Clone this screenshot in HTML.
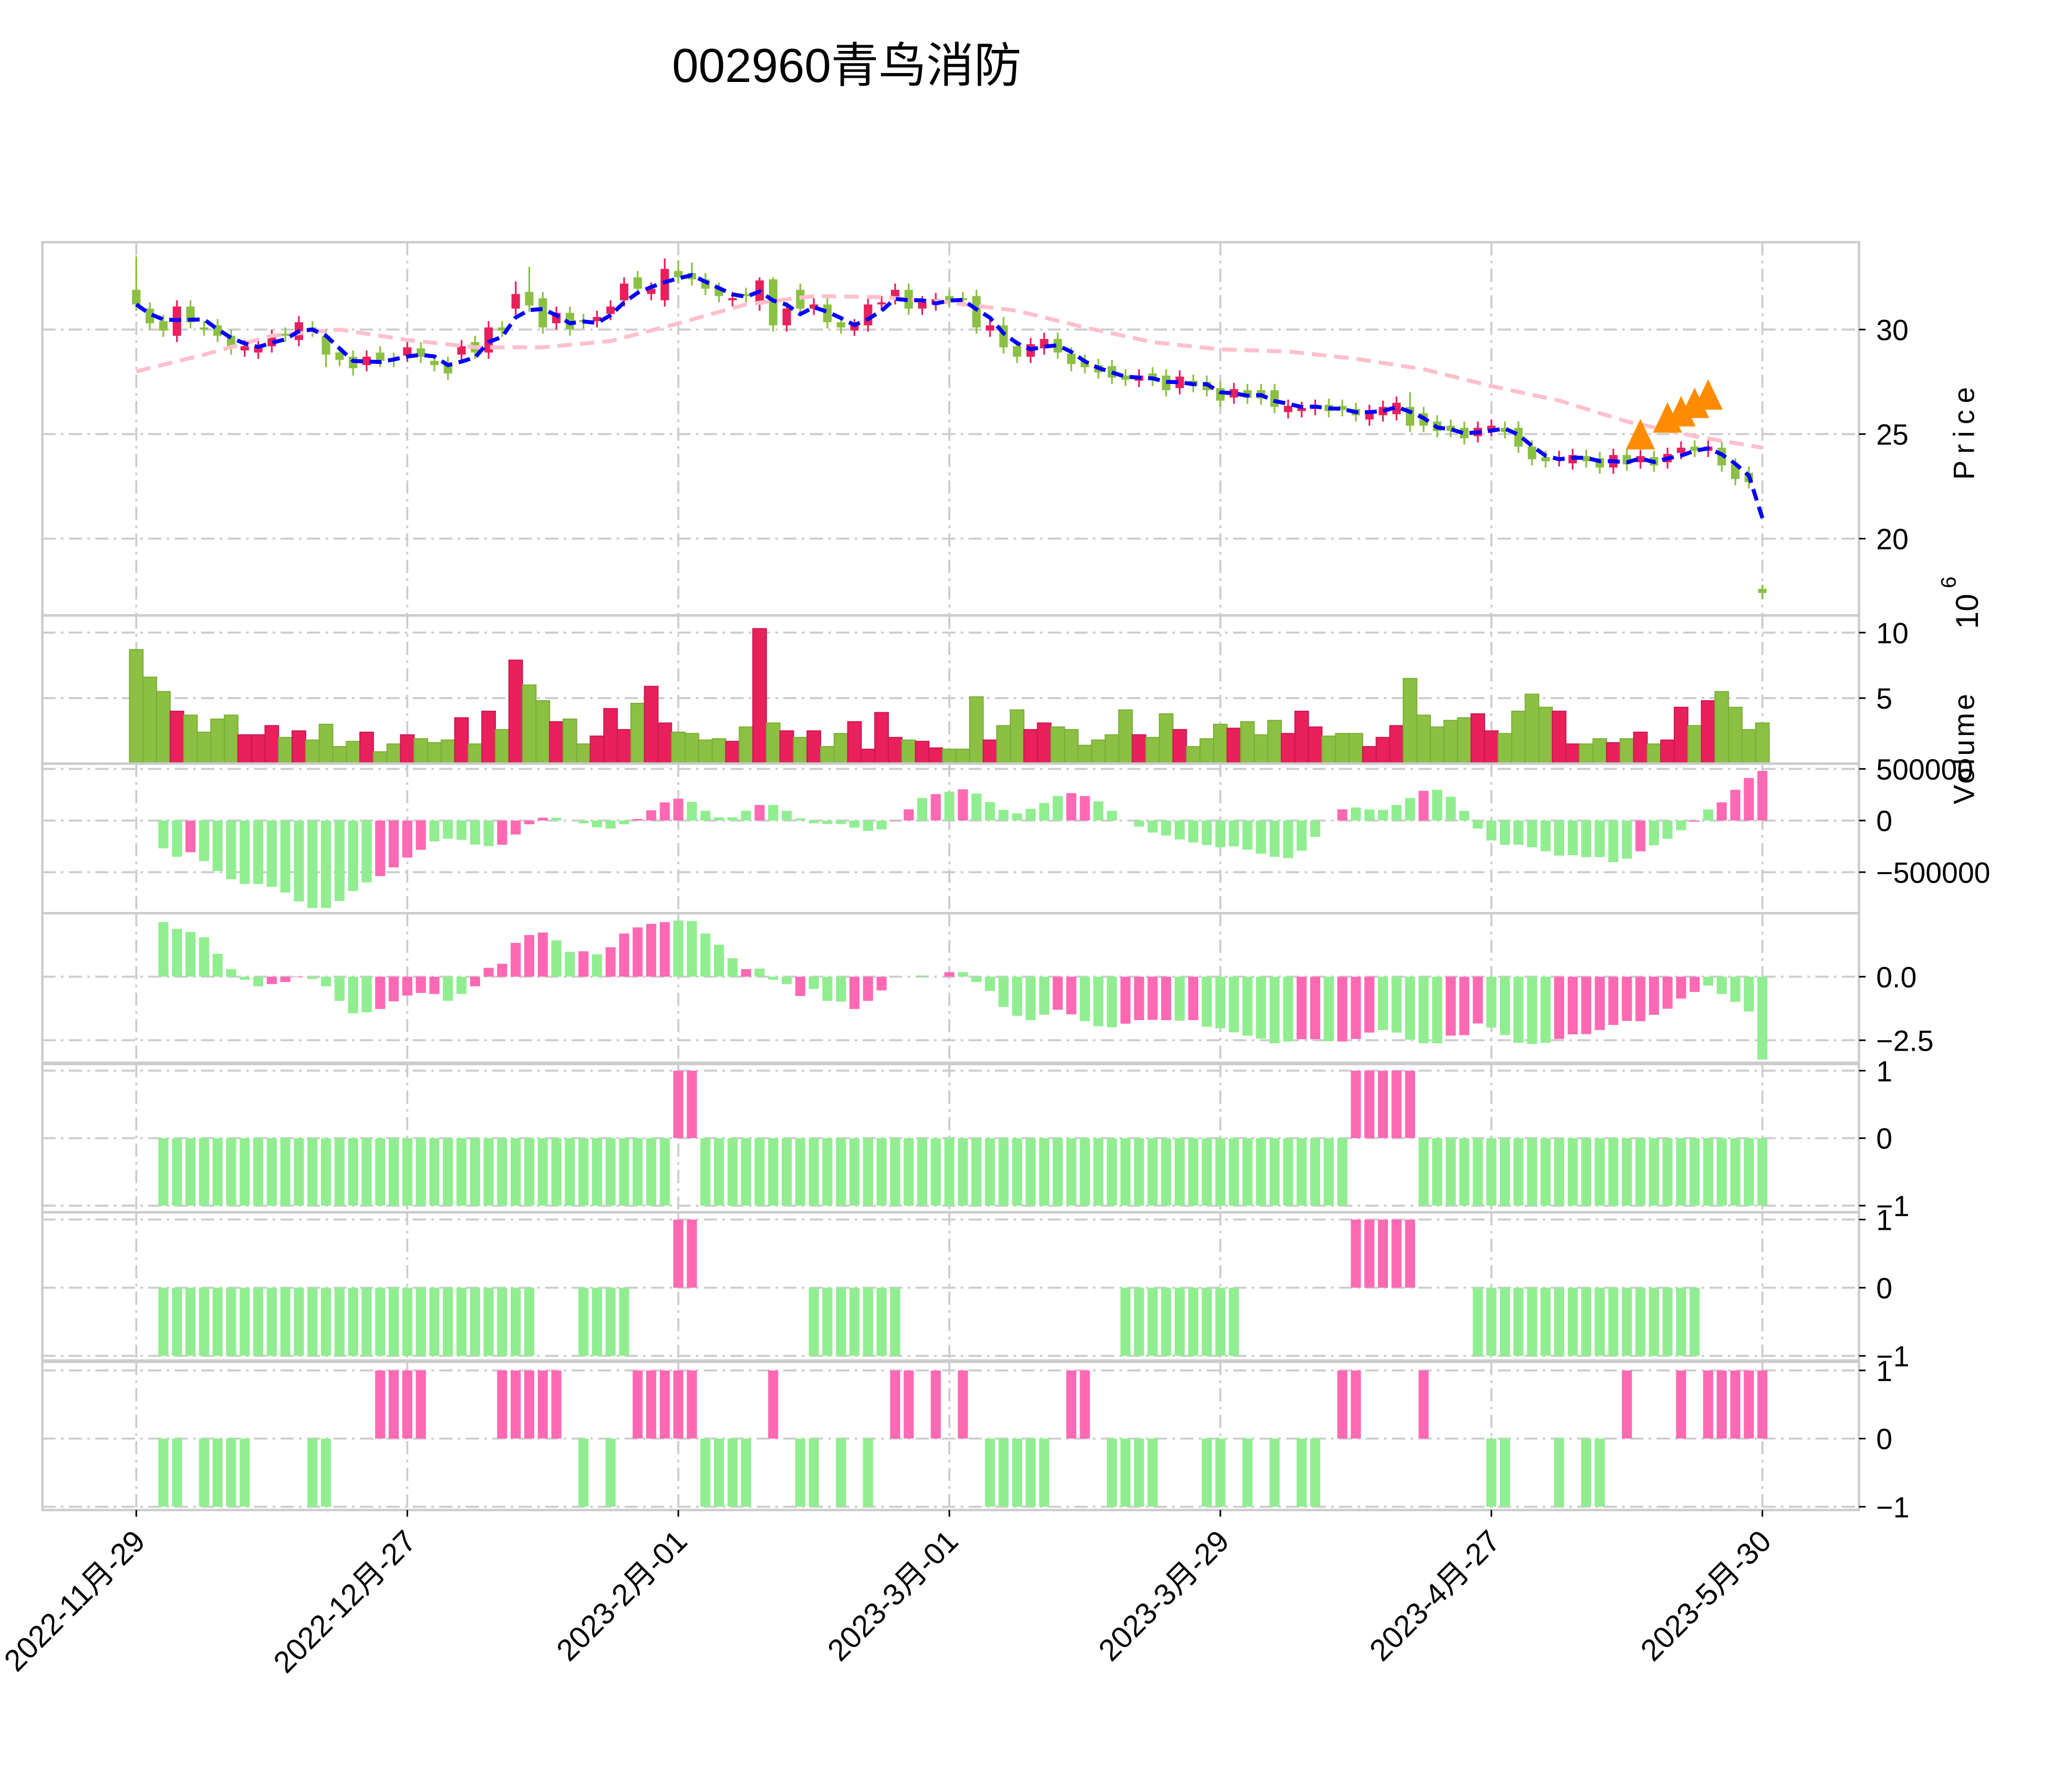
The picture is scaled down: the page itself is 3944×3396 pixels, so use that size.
<!DOCTYPE html>
<html><head><meta charset="utf-8">
<style>
html,body{margin:0;padding:0;background:#fff;}
svg{display:block;}
text{font-family:"Liberation Sans","Noto Sans CJK SC",sans-serif;}
</style></head>
<body>
<svg id="chart" xmlns="http://www.w3.org/2000/svg" width="3944" height="3396" viewBox="0 0 1566 1348" preserveAspectRatio="none">
<rect x="0" y="0" width="1566" height="1348" fill="#fff"/>
<text x="640" y="62" font-size="36" text-anchor="middle" fill="#000">002960青鸟消防</text>
<g id="grid"></g>
<g id="marks"></g>
<g id="frames"></g>
<g id="axes"></g>
</svg>
<script>
const dateLabels = ["2022-11月-29","2022-12月-27","2023-2月-01","2023-3月-01","2023-3月-29","2023-4月-27","2023-5月-30"];
const dateTickIdx = [0,20,40,60,80,100,120];
const opens = [31.9,31.0,30.4,29.7,31.1,30.1,30.2,29.7,29.0,28.9,29.2,29.8,29.5,30.1,29.7,28.9,28.7,28.3,28.9,28.6,28.75,29.1,28.5,28.4,28.8,29.4,28.9,30.1,31.0,31.8,31.5,30.3,30.8,30.45,30.4,30.75,31.4,32.5,31.7,31.4,32.8,32.7,32.4,31.95,31.4,31.7,31.2,32.4,30.2,31.9,31.0,31.2,30.35,29.95,30.2,31.2,31.5,31.9,31.0,31.2,31.6,31.5,31.6,29.95,30.2,29.2,28.7,29.1,29.55,28.85,28.5,28.3,28.25,27.8,27.55,27.9,27.8,27.2,27.55,27.5,27.2,26.75,27.1,27.1,27.1,26.05,26.1,26.2,26.4,26.35,26.2,25.7,25.9,25.95,26.3,26.0,25.6,25.4,25.3,24.9,25.2,25.3,25.3,24.4,23.9,23.75,23.6,23.95,23.85,23.4,24.0,23.65,23.9,23.65,24.1,24.4,24.2,24.35,23.55,23.15,17.6];
const closes = [31.2,30.3,29.95,31.1,30.35,30.0,29.7,29.1,29.2,29.2,29.7,29.7,30.35,29.95,28.8,28.55,28.15,28.7,28.5,28.5,29.15,28.7,28.3,27.9,29.2,28.9,30.1,29.95,31.7,31.15,30.1,30.8,30.0,30.35,30.6,31.1,32.2,31.95,31.95,32.9,32.5,32.4,31.95,31.6,31.5,31.6,32.35,30.2,31.0,31.0,31.2,30.35,30.1,30.2,31.2,31.3,31.9,31.0,31.3,31.45,31.4,31.4,30.1,30.2,29.15,28.7,29.3,29.55,28.9,28.35,28.2,27.95,27.7,27.6,27.8,27.6,27.1,27.75,27.3,27.1,26.6,27.15,26.75,26.7,26.3,26.35,26.25,26.35,26.1,26.15,25.9,26.1,26.3,26.5,25.4,25.4,25.15,25.15,24.8,25.3,25.4,25.1,24.4,23.8,23.7,23.9,24.0,23.7,23.4,24.0,23.55,23.95,23.5,24.05,24.35,24.2,24.4,23.5,22.85,22.7,17.4];
const highExtra = {0:33.5,28:32.3,29:33.0,36:32.5,39:33.4,40:33.3,41:33.2,46:32.5,47:32.5,56:32.2,64:30.6,94:27.0,120:17.8};
const lowExtra = {14:28.2,16:27.8,23:27.6,47:29.9,53:29.7,69:28.0};
const volumes = [8.7,6.6,5.5,4.0,3.7,2.4,3.4,3.7,2.2,2.2,2.9,2.0,2.5,1.8,3.0,1.3,1.7,2.4,0.9,1.5,2.2,1.9,1.6,1.8,3.5,1.5,4.0,2.6,7.9,6.0,4.8,3.2,3.4,1.5,2.1,4.2,2.6,4.6,5.9,3.1,2.4,2.3,1.8,1.9,1.7,2.8,10.3,3.1,2.5,2.0,2.5,1.3,2.3,3.2,1.1,3.9,2.0,1.8,1.7,1.2,1.1,1.1,5.1,1.8,2.9,4.1,2.6,3.1,2.8,2.6,1.4,1.8,2.2,4.1,2.2,2.0,3.8,2.6,1.3,1.9,3.0,2.7,3.2,2.2,3.3,2.3,4.0,2.8,2.1,2.3,2.3,1.3,2.0,2.9,6.5,3.7,2.8,3.3,3.5,3.8,2.5,2.3,4.0,5.3,4.3,4.0,1.5,1.5,1.9,1.6,1.9,2.4,1.5,1.8,4.3,2.9,4.8,5.5,4.3,2.6,3.1];
const pinkIdx = [0,5,10,15,20,25,30,35,40,45,50,55,60,65,70,75,80,85,90,95,100,105,110,115,120];
const pinkVals = [28.0,28.8,29.7,30.0,29.5,29.15,29.15,29.45,30.3,31.2,31.6,31.55,31.3,30.9,30.1,29.4,29.05,28.95,28.6,28.1,27.3,26.6,25.6,24.9,24.35];
const triIdx = [111,113,114,115,116];
const triVals = [24.9,25.7,26.0,26.4,26.8];
const obvVals = [0,0,-269,-351,-307,-393,-489,-569,-615,-615,-641,-698,-784,-847,-847,-779,-683,-599,-538,-454,-359,-284,-202,-176,-187,-233,-248,-235,-135,-36,27,27,0,-27,-65,-78,-36,15,99,176,212,181,94,31,31,94,151,151,94,21,-27,-34,-34,-69,-101,-86,-4,109,218,256,279,303,261,179,103,69,113,170,237,265,237,185,94,0,-59,-116,-145,-183,-212,-237,-260,-250,-282,-321,-351,-364,-292,-158,0,109,126,107,103,151,218,288,298,231,94,-78,-193,-235,-235,-260,-298,-340,-336,-355,-355,-403,-370,-298,-240,-177,-94,-11,107,176,298,412,481];
const obvCols = "ggggpgggggggggggggppppgggggppppggggggppppgggggpgggggggggppgpgpgggggggppgggggggggggggggggppgggggpgggggggggggggggpgggpgpppppggggg".split('');
const macdVals = [0,0,2.15,1.88,1.76,1.55,0.90,0.30,-0.12,-0.38,-0.29,-0.21,-0.02,-0.09,-0.38,-0.95,-1.44,-1.40,-1.27,-0.97,-0.74,-0.64,-0.68,-0.95,-0.68,-0.38,0.35,0.51,1.33,1.64,1.74,1.43,0.98,1.0,0.88,1.16,1.70,1.94,2.08,2.15,2.21,2.19,1.70,1.26,0.73,0.30,0.32,-0.12,-0.29,-0.76,-0.48,-0.95,-0.98,-1.27,-0.95,-0.54,0.0,0.0,0.05,0.0,0.18,0.18,-0.21,-0.56,-1.19,-1.54,-1.71,-1.5,-1.30,-1.48,-1.75,-1.95,-1.99,-1.85,-1.71,-1.70,-1.71,-1.73,-1.71,-1.97,-2.03,-2.19,-2.32,-2.44,-2.62,-2.55,-2.46,-2.46,-2.54,-2.55,-2.45,-2.20,-2.10,-2.20,-2.48,-2.62,-2.62,-2.32,-2.3,-1.84,-2.0,-2.3,-2.6,-2.65,-2.6,-2.45,-2.27,-2.26,-2.1,-1.9,-1.74,-1.75,-1.5,-1.26,-0.86,-0.6,-0.35,-0.68,-0.99,-1.37,-3.26];
const macdCols = "ggggggggggpppgggggpppppggppppppggpgpppppgggggpgggpgggpppgpgppgggggggppgggppppgpgggggggppgpppgggggpppgggggpppppppppppggggg".split('');
const sig5 = ("00"+"--------------------------------------"+"++"+"------------------------------------------------"+"+++++"+"--------------------------").split('');
const sig6 = "00----------------------------000----000++00000000-------0000000000000000---------00000000+++++0000-----------------00000".split('');
const sig7 = "00--0----0000--000++++00000+++++0-0-0+++++----0+0--0-0-0++0+0+0-----0++0----000--0-0-0--0++0000+0000--000-0--0+000+0+++++000".split('');

const NS="http://www.w3.org/2000/svg";
const N=121, X0=103, DX=1229/120;
const L=32, R=1405;
const xOf=i=>X0+i*DX;
const yP=v=>249-(v-30)*15.8;
const yV=v=>577-v*9.9;
const yO=k=>620-k*0.078;
const yM=v=>738-v*19.2;
const y5=v=>860-v*51, y6=v=>973-v*51.5, y7=v=>1087-v*51.5;
const RED="#e8205c", GRN="#8bc043", LG="#90ee90", HP="#ff69b4";
function mk(tag,attrs,parent){const e=document.createElementNS(NS,tag);for(const k in attrs)e.setAttribute(k,attrs[k]);document.getElementById(parent).appendChild(e);return e;}
function sigFrom(ch){return ch==='+'?1:(ch==='-'?-1:0);}

const panels=[
 {top:183,bot:465,ticks:[20,25,30],labels:["20","25","30"],ty:yP,name:"price-panel"},
 {top:465,bot:577,ticks:[5,10],labels:["5","10"],ty:yV,name:"volume-panel"},
 {top:577,bot:690,ticks:[-500,0,500],labels:["\u2212500000","0","500000"],ty:yO,name:"obv-panel"},
 {top:690,bot:803,ticks:[-2.5,0],labels:["\u22122.5","0.0"],ty:yM,name:"macd-panel"},
 {top:804,bot:916,ticks:[-1,0,1],labels:["\u22121","0","1"],ty:y5,name:"signal-panel-1"},
 {top:916,bot:1028,ticks:[-1,0,1],labels:["\u22121","0","1"],ty:y6,name:"signal-panel-2"},
 {top:1029,bot:1141,ticks:[-1,0,1],labels:["\u22121","0","1"],ty:y7,name:"signal-panel-3"}
];
const dash="10,4,2,4";
panels.forEach((p,pi)=>{
  dateTickIdx.forEach(i=>{
    const g=mk('line',{x1:xOf(i),x2:xOf(i),y1:p.top,y2:p.bot,stroke:"#cccccc","stroke-width":1.5,"stroke-dasharray":dash},"grid");
    
    
  });
  p.ticks.forEach((t,ti)=>{
    const y=p.ty(t);
    const g=mk('line',{x1:L,x2:R,y1:y,y2:y,stroke:"#cccccc","stroke-width":1.5,"stroke-dasharray":dash},"grid");
    
    
    const tk=mk('line',{x1:R,x2:R+5,y1:y,y2:y,stroke:"#000","stroke-width":1.2},"axes");
    
    
    const tx=mk('text',{x:R+13,y:y+8,"font-size":22,fill:"#000"},"axes");
    tx.textContent=p.labels[ti];
    
    
  });
  const fr=mk('rect',{x:L,y:p.top,width:R-L,height:p.bot-p.top,fill:"none",stroke:"#cccccc","stroke-width":1.8},"frames");
  
  
});

for(let i=0;i<N;i++){
  const o=opens[i],c=closes[i],up=c>o,col=up?RED:GRN,x=xOf(i);
  const hi=highExtra[i]!==undefined?highExtra[i]:Math.max(o,c)+0.3;
  const lo=lowExtra[i]!==undefined?lowExtra[i]:Math.min(o,c)-0.3;
  const w=mk('line',{x1:x,x2:x,y1:yP(hi),y2:yP(lo),stroke:col,"stroke-width":1.3},"marks");
  
  
  const yt=yP(Math.max(o,c)),yb=yP(Math.min(o,c));
  const b=mk('rect',{x:x-3.2,y:yt,width:6.4,height:Math.max(1.2,yb-yt),fill:col},"marks");
  
  
}
{
  const d=pinkIdx.map((ix,k)=>(k?'L':'M')+xOf(ix).toFixed(1)+','+yP(pinkVals[k]).toFixed(1)).join(' ');
  const pl=mk('path',{d:d,fill:"none",stroke:"#ffc0cb","stroke-width":3,"stroke-dasharray":"11,6"},"marks");
  
  
}
{
  let d='';
  for(let i=0;i<N;i++){const s=closes.slice(Math.max(0,i-2),i+1);const m=s.reduce((a,b)=>a+b,0)/s.length;d+=(i?'L':'M')+xOf(i).toFixed(1)+','+yP(m).toFixed(1)+' ';}
  const bl=mk('path',{d:d,fill:"none",stroke:"#0000ff","stroke-width":3,"stroke-dasharray":"9,5"},"marks");
  
  
}
triIdx.forEach((ix,k)=>{
  const x=xOf(ix),y=yP(triVals[k]);
  const t=mk('polygon',{points:`${x},${y-13} ${x-11},${y+10} ${x+11},${y+10}`,fill:"#ff8c00"},"marks");
  
  
});
for(let i=0;i<N;i++){
  const up=closes[i]>opens[i],col=up?RED:GRN,x=xOf(i);
  const v=mk('rect',{x:x-DX/2,y:yV(volumes[i]),width:DX,height:577-yV(volumes[i]),fill:col,stroke:up?"#c81850":"#7aad38","stroke-width":0.8},"marks");
  
  
}
function bar(x,y0,y1,col,name){
  const r=mk('rect',{x:x-3.8,y:Math.min(y0,y1),width:7.6,height:Math.abs(y1-y0),fill:col},"marks");
  
  
}
for(let i=0;i<N;i++){
  const x=xOf(i);
  if(obvVals[i]!==0||i>1) bar(x,yO(0),yO(obvVals[i]),obvCols[i]==='p'?HP:LG,'obv-bar');
  if(i>1) bar(x,yM(0),yM(macdVals[i]),macdCols[i]==='p'?HP:LG,'macd-bar');
  const a=sigFrom(sig5[i]),b=sigFrom(sig6[i]),c=sigFrom(sig7[i]);
  if(a) bar(x,y5(0),y5(a),a>0?HP:LG,'signal-bar');
  if(b) bar(x,y6(0),y6(b),b>0?HP:LG,'signal-bar');
  if(c) bar(x,y7(0),y7(c),c>0?HP:LG,'signal-bar');
}
dateTickIdx.forEach((ix,k)=>{
  const x=xOf(ix);
  const tk=mk('line',{x1:x,x2:x,y1:1141,y2:1146,stroke:"#000","stroke-width":1.2},"axes");
  
  
  const t=mk('text',{x:x+8,y:1166,"font-size":23,fill:"#000","text-anchor":"end",transform:`rotate(-45 ${x+8} 1166)`},"axes");
  t.textContent=dateLabels[k];
  
  
});
{
  const a=mk('text',{x:1492,y:325,"font-size":22,fill:"#000","text-anchor":"middle","letter-spacing":"5",transform:"rotate(-90 1492 325)"},"axes");
  a.textContent="Price";
  
  
  const e=mk('text',{x:1495,y:462,"font-size":24,fill:"#000","text-anchor":"middle",transform:"rotate(-90 1495 462)"},"axes");
  e.textContent="10";
  
  
  const e2=mk('text',{x:1478,y:440,"font-size":16,fill:"#000","text-anchor":"middle",transform:"rotate(-90 1478 440)"},"axes");
  e2.textContent="6";
  
  
  const v=mk('text',{x:1492,y:565,"font-size":22,fill:"#000","text-anchor":"middle","letter-spacing":"2",transform:"rotate(-90 1492 565)"},"axes");
  v.textContent="Volume";
  
  
}
</script>
</body></html>
